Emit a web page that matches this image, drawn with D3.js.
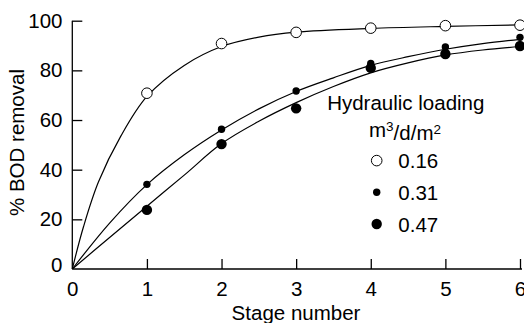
<!DOCTYPE html>
<html><head><meta charset="utf-8">
<script src="https://cdn.jsdelivr.net/npm/d3@7"></script>
<style>
body{margin:0;background:#fff;}
svg{display:block;font-family:"Liberation Sans",Arial,Helvetica,sans-serif;}
</style></head>
<body><svg id="c" width="524" height="323"></svg>
<script>
// Data
const stages = [1, 2, 3, 4, 5, 6];
const loadings = ["0.16", "0.31", "0.47"];
const removal016 = [70.8, 90.8, 95.3, 97.0, 98.0, 98.2];
const removal031 = [34.1, 56.3, 71.7, 82.8, 89.4, 93.3];
const removal047 = [23.8, 50.3, 64.7, 81.0, 86.6, 89.8];
// Fitted curves (x, % removal)
const curveX016 = [0, 0.15, 0.35, 0.65, 1, 1.5, 2, 2.5, 3, 4, 5, 6];
const curveY016 = [0, 17, 35, 53.5, 69.5, 82, 89.6, 93.4, 95.4, 96.9, 97.7, 98.3];
const curveX = [0, 0.5, 1, 1.5, 2, 2.5, 3, 3.5, 4, 4.5, 5, 5.5, 6];
const curveY031 = [0, 18.5, 34, 46, 56, 64.5, 71.5, 77, 82, 85.5, 88.5, 90.8, 92.5];
const curveY047 = [0, 12.7, 25.3, 37.8, 50.5, 59.5, 67, 73.5, 79, 83, 86.2, 88.2, 89.6];
const xTicks = [0, 1, 2, 3, 4, 5, 6];
const yTicks = [0, 20, 40, 60, 80, 100];

const svg = d3.select("#c");
const x = d3.scaleLinear().domain([0, 6]).range([72.3, 520]);
const y = d3.scaleLinear().domain([0, 100]).range([269, 20.7]);
const FS = "20.5px";

// axes
const gx = svg.append("g").attr("transform", `translate(0,${y(0)})`)
  .call(d3.axisBottom(x).tickValues(xTicks).tickSize(-10).tickPadding(12.5).tickFormat(d3.format("d")));
const gy = svg.append("g").attr("transform", `translate(${x(0)},0)`)
  .call(d3.axisLeft(y).tickValues(yTicks).tickSize(-10).tickPadding(9.8).tickFormat(d3.format("d")));
[gx, gy].forEach(g => {
  g.select(".domain").attr("stroke", "#000").attr("stroke-width", 1.3).attr("d", null);
  g.selectAll(".tick line").attr("stroke", "#000").attr("stroke-width", 1.3);
  g.selectAll(".tick text").attr("fill", "#000").style("font-size", FS);
});
gx.select(".domain").attr("d", `M${x(0)},0H${x(6) + 2}`);
gy.select(".domain").attr("d", `M0,${y(100)}V${y(0)}`);
gx.selectAll(".tick").filter(d => d === 0).select("line").remove();
gy.selectAll(".tick").filter(d => d === 0).select("line").remove();
gy.selectAll(".tick").filter(d => d === 0).select("text").attr("dy", "0.1em");

// curves
const line = d3.line().x(d => x(d[0])).y(d => y(d[1])).curve(d3.curveCatmullRom.alpha(0.5));
const curves = [
  d3.zip(curveX016, curveY016),
  d3.zip(curveX, curveY031),
  d3.zip(curveX, curveY047)
];
svg.append("g").selectAll("path").data(curves).join("path")
  .attr("d", line).attr("fill", "none").attr("stroke", "#000").attr("stroke-width", 1.2);

// points
const styles = [
  {r: 5.3, fill: "#fff", stroke: "#000", sw: 1},
  {r: 3.7, fill: "#000", stroke: "none", sw: 0},
  {r: 5.2, fill: "#000", stroke: "none", sw: 0}
];
const series = [removal016, removal031, removal047];
series.forEach((vals, i) => {
  svg.append("g").selectAll("circle").data(stages.map((s, j) => [s, vals[j]])).join("circle")
    .attr("cx", d => x(d[0])).attr("cy", d => y(d[1])).attr("r", styles[i].r)
    .attr("fill", styles[i].fill).attr("stroke", styles[i].stroke).attr("stroke-width", styles[i].sw);
});

// axis titles
svg.append("text").attr("x", 296).attr("y", 320).attr("text-anchor", "middle")
  .style("font-size", FS).text("Stage number");
svg.append("text").attr("transform", "translate(23.5,142.5) rotate(-90)").attr("text-anchor", "middle")
  .style("font-size", FS).text("% BOD removal");

// legend
svg.append("text").attr("x", 405.8).attr("y", 110).attr("text-anchor", "middle")
  .style("font-size", FS).text("Hydraulic loading");
const unit = svg.append("text").attr("x", 405).attr("y", 136.7).attr("text-anchor", "middle").style("font-size", FS);
unit.append("tspan").text("m");
unit.append("tspan").attr("dy", "-0.4em").style("font-size", "13.5px").text("3");
unit.append("tspan").attr("dy", "0.4em").text("/d/m");
unit.append("tspan").attr("dy", "-0.4em").style("font-size", "13.5px").text("2");

const leg = svg.append("g").selectAll("g").data(loadings).join("g")
  .attr("transform", (d, i) => `translate(376.7,${160.6 + i * 31.7})`);
leg.append("circle").attr("r", (d, i) => styles[i].r)
  .attr("fill", (d, i) => styles[i].fill).attr("stroke", (d, i) => styles[i].stroke)
  .attr("stroke-width", (d, i) => styles[i].sw);
leg.append("text").attr("x", 21.6).attr("y", 7.5).style("font-size", FS).text(d => d);
</script></body></html>
